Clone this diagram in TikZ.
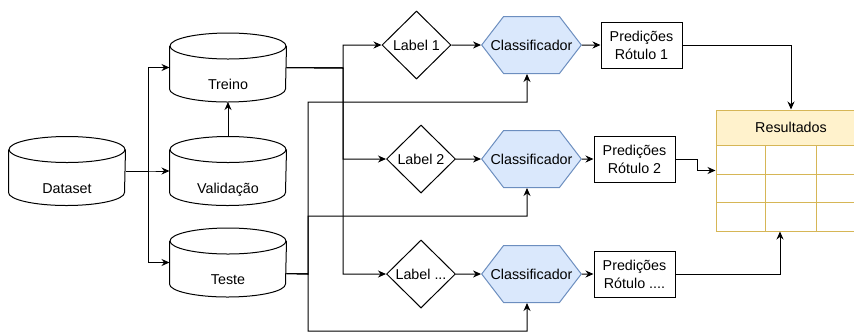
\documentclass[tikz,border=0pt]{standalone}
\usepackage{fontspec}
\setmainfont{Liberation Sans}
\usetikzlibrary{shapes.geometric,shapes.symbols,arrows.meta}
\definecolor{clsfill}{HTML}{DAE8FC}
\definecolor{clsdraw}{HTML}{6C8EBF}
\definecolor{resfill}{HTML}{FFF2CC}
\definecolor{resdraw}{HTML}{D6B656}
\begin{document}
\begin{tikzpicture}[x=1pt,y=-1pt, every node/.style={font=\fontsize{14.3}{18}\selectfont},
 db/.style={minimum width=116pt,minimum height=68pt,inner sep=0pt,text height=44pt,text depth=0pt},
 lbl/.style={diamond,draw,inner sep=0pt,minimum width=69pt,minimum height=68pt},
 clf/.style={signal,signal to=east and west,signal pointer angle=105,draw=clsdraw,fill=clsfill,
  minimum height=57pt,inner ysep=0pt,inner xsep=-13pt},
 pred/.style={draw,align=center,minimum width=81pt,minimum height=46pt,inner sep=0pt},
 arr/.style={-{Stealth[length=8pt,width=7pt]}},line width=1pt]
\useasboundingbox (0,0) rectangle (854,333);
\node[db] (dataset) at (67,171) {Dataset};
\node[db] (treino) at (228,67.5) {Treino};
\node[db] (validacao) at (228,171) {Validação};
\node[db] (teste) at (228,262.5) {Teste};
\foreach \n in {dataset,treino,validacao,teste}{
 \draw ([yshift=-13pt]\n.north) ellipse[x radius=58pt,y radius=13pt];
 \draw ([yshift=-13pt]\n.north west) -- ([yshift=13pt]\n.south west)
  arc[start angle=180,end angle=360,x radius=58pt,y radius=13pt] -- ([yshift=-13pt]\n.north east);}
\coordinate (ds) at (148,171);
\coordinate (tr) at (343,68);
\coordinate (ts) at (308,274);
\foreach \n in {treino,validacao,teste}
 \draw[arr] (dataset.east) -- (ds) |- (\n.west);
\draw[arr] (validacao.north) -- (treino.south);
\node[draw=resdraw,fill=white,minimum width=150pt,minimum height=121pt] (tab) at (791,170.5) {};
\node[draw=resdraw,fill=resfill,minimum width=150pt,minimum height=35pt,inner sep=0pt] (res) at (791,127.5) {Resultados};
\foreach \y in {174,202}
 \draw[resdraw] (716,\y) -- (866,\y);
\foreach \x in {765,816}
 \draw[resdraw] (\x,145) -- (\x,231);
\foreach \i/\lx/\px/\y/\a/\b in {1/416.5/641.5/45/1/1,2/421/634.5/159/2/2,3/421/634.5/274/{...}/{....}}{
 \node[lbl] (l\i) at (\lx,\y) {Label \a};
 \node[clf] (c\i) at (531.5,\y) {Classificador};
 \node[pred] (p\i) at (\px,\y) {Predições\\Rótulo \b};
 \coordinate (f\i) at (308,\y+57);
 \draw[arr] (treino.east) -- (tr) |- (l\i.west);
 \draw[arr] ([yshift=-11pt]teste.east) -- (ts) -- (f\i) -| ([xshift=-4.5pt]c\i.south);
 \draw[arr] (l\i) -- (c\i);
 \draw[arr] (c\i) -- (p\i);}
\coordinate (k2) at (697,159);
\draw[arr] (p1.east) -| (tab.north);
\draw[arr] (p2.east) -- (k2) |- (tab.west);
\draw[arr] (p3.east) -| ([xshift=-11pt]tab.south);
\end{tikzpicture}
\end{document}
